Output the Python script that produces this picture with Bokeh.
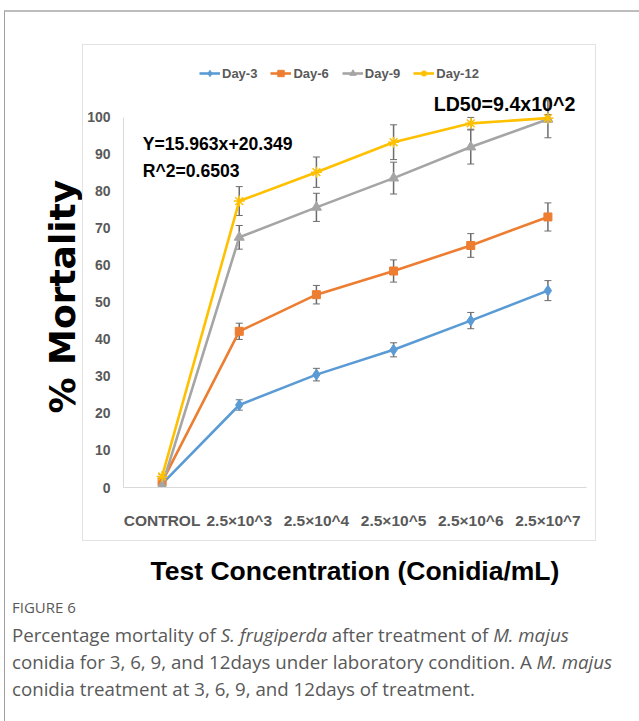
from bokeh.plotting import figure
from bokeh.models import (ColumnDataSource, Whisker, Legend, LegendItem, Label,
                          FactorRange, Range1d, Div, FixedTicker, Title,
                          InlineStyleSheet)
from bokeh.layouts import column
from bokeh.embed import file_html
from bokeh.resources import INLINE

categories = ["CONTROL", "2.5×10^3", "2.5×10^4", "2.5×10^5", "2.5×10^6", "2.5×10^7"]
y_ticks = [0, 10, 20, 30, 40, 50, 60, 70, 80, 90, 100]

day3 = [1.0, 22.3, 30.5, 37.2, 45.1, 53.2]
day3_err = [0.5, 1.4, 1.7, 1.9, 2.2, 2.7]
day6 = [1.5, 42.2, 52.1, 58.5, 65.4, 73.1]
day6_err = [0.5, 2.2, 2.5, 3.0, 3.2, 3.8]
day9 = [0.5, 67.6, 75.7, 83.6, 92.0, 99.5]
day9_err = [0.5, 3.2, 3.8, 4.3, 4.6, 5.0]
day12 = [3.0, 77.4, 85.2, 93.3, 98.4, 99.8]
day12_err = [0.5, 3.9, 4.1, 4.7, 1.6, 1.0]

series = [
    ("Day-3", day3, day3_err, "#5B9BD5", "diamond", 11),
    ("Day-6", day6, day6_err, "#ED7D31", "square", 8),
    ("Day-9", day9, day9_err, "#A5A5A5", "triangle", 10),
    ("Day-12", day12, day12_err, "#FFC000", "asterisk", 11),
]

SANS = "Liberation Sans"

box_css = InlineStyleSheet(css="""
:host { position: relative; }
:host::after { content: ""; position: absolute; left: 77px; top: 32px;
  width: 514px; height: 497px; border: 1px solid #e2e2e2;
  pointer-events: none; z-index: 5; }
""")

p = figure(width=627, height=580, output_backend="svg", toolbar_location=None,
           x_range=FactorRange(factors=categories), y_range=Range1d(0, 117),
           min_border_left=118, min_border_right=46, min_border_top=42,
           min_border_bottom=105, stylesheets=[box_css])
p.outline_line_color = None
p.xgrid.grid_line_color = None
p.ygrid.grid_line_color = None

items = []
for name, vals, errs, color, marker, size in series:
    src = ColumnDataSource(dict(x=categories, y=vals,
                                lo=[v - e for v, e in zip(vals, errs)],
                                hi=[v + e for v, e in zip(vals, errs)]))
    line = p.line("x", "y", source=src, line_color=color, line_width=2.6)
    w = Whisker(base="x", lower="lo", upper="hi", source=src,
                line_color="#6d6d6d", line_width=1.5)
    w.upper_head.line_color = "#6d6d6d"
    w.lower_head.line_color = "#6d6d6d"
    w.upper_head.size = 7
    w.lower_head.size = 7
    p.add_layout(w)
    if marker == "asterisk":
        sc = p.scatter("x", "y", source=src, marker=marker, size=size,
                       line_color=color, line_width=1.5)
    else:
        sc = p.scatter("x", "y", source=src, marker=marker, size=size,
                       fill_color=color, line_color=color)
    items.append(LegendItem(label=name, renderers=[line, sc]))

legend = Legend(items=items, orientation="horizontal", location=(76, 406),
                glyph_width=21, glyph_height=16, label_standoff=2, spacing=13,
                padding=0, margin=0, border_line_color=None,
                background_fill_alpha=0,
                label_text_font=SANS, label_text_font_style="bold",
                label_text_font_size="13px", label_text_color="#595959")
p.add_layout(legend, "center")

# axes
p.xaxis.axis_line_color = "#d9d9d9"
p.xaxis.major_tick_line_color = None
p.xaxis.minor_tick_line_color = None
p.xaxis.major_label_text_font = SANS
p.xaxis.major_label_text_font_style = "bold"
p.xaxis.major_label_text_font_size = "15.5px"
p.xaxis.major_label_text_color = "#595959"
p.xaxis.major_label_standoff = 18
p.xaxis.axis_label = "Test Concentration (Conidia/mL)"
p.xaxis.axis_label_text_font = SANS
p.xaxis.axis_label_text_font_style = "bold"
p.xaxis.axis_label_text_font_size = "26.5px"
p.xaxis.axis_label_text_color = "black"
p.xaxis.axis_label_standoff = 24

p.yaxis.ticker = FixedTicker(ticks=y_ticks)
p.yaxis.bounds = (0, 100)
p.yaxis.axis_line_color = "#d9d9d9"
p.yaxis.major_tick_line_color = None
p.yaxis.minor_tick_line_color = None
p.yaxis.major_label_text_font = SANS
p.yaxis.major_label_text_font_style = "bold"
p.yaxis.major_label_text_font_size = "14px"
p.yaxis.major_label_text_color = "#595959"
p.yaxis.major_label_standoff = 7

ytitle = Title(text="% Mortality", align="left", offset=74,
               text_font="DejaVu Sans", text_font_style="bold",
               text_font_size="36px", text_color="black", standoff=4)
p.add_layout(ytitle, "left")

for txt, x, y, fs in [("Y=15.963x+20.349", 0.25, 92.8, "17.6px"),
                      ("R^2=0.6503", 0.25, 85.4, "17.6px"),
                      ("LD50=9.4x10^2", 4.02, 103.6, "19.6px")]:
    p.add_layout(Label(x=x, y=y, text=txt, text_font=SANS,
                       text_font_style="bold", text_font_size=fs,
                       text_color="black", text_baseline="alphabetic"))

caption = Div(width=627, height=129, text=(
    '<div style="font-family:\'Open Sans\';color:#595959;padding-left:2px;white-space:nowrap;">'
    '<div style="font-size:15px;line-height:20px;margin-top:0px;">FIGURE 6</div>'
    '<div style="font-size:18.7px;line-height:27px;margin-top:4px;">'
    'Percentage mortality of <i>S. frugiperda</i> after treatment of <i>M. majus</i><br>'
    'conidia for 3, 6, 9, and 12days under laboratory condition. A <i>M. majus</i><br>'
    'conidia treatment at 3, 6, 9, and 12days of treatment.</div></div>'))

layout = column(p, caption, margin=(10, 0, 0, 4),
                styles={"border-top": "2px solid #bdbdbd",
                        "border-left": "1px solid #a0a0a0"})

open("out.html", "w").write(file_html(layout, INLINE))
